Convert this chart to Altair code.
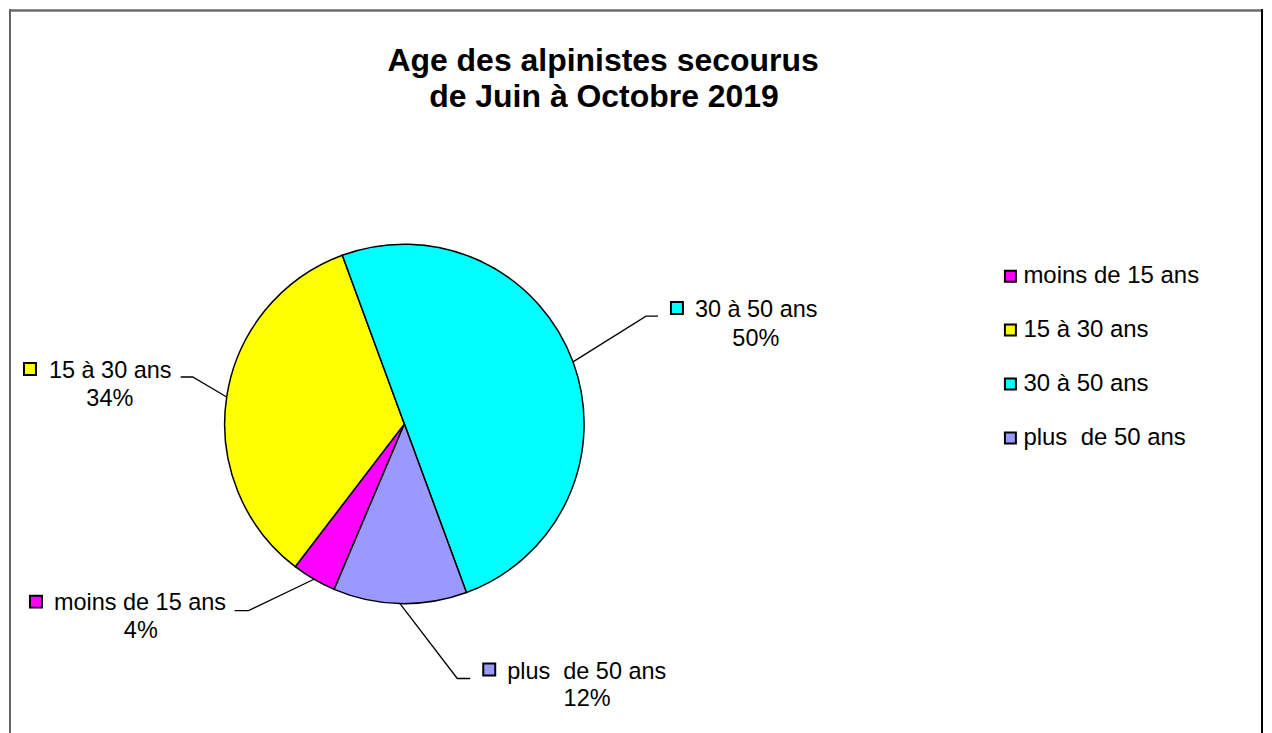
import math
import altair as alt
import pandas as pd

# ---- data ----
categories = ["moins de 15 ans", "15 à 30 ans", "30 à 50 ans", "plus\u00a0 de 50 ans"]
values = [4, 34, 50, 12]
colors = ["#FF00FF", "#FFFF00", "#00FFFF", "#9999FF"]
title_lines = ["Age des alpinistes secourus", "de Juin à Octobre 2019"]

# ---- layout (page pixels; converted to chart pixels below) ----
OFF = 8
W, H = 1256, 725
CX, CY, R = 404 - OFF, 423 - OFF, 180
START_DEG = 203.0
FONT = "Liberation Sans"
LABEL_SIZE = 23.5
LEGEND_SIZE = 24
TITLE_SIZE = 32

title_pos = [(603, 70), (604, 106)]
# per category: marker centre, text start x, line1 baseline, pct centre x, pct baseline, elbow, hook end
label_layout = [
    dict(mx=35, my=601, tx=53, ty=609, px=140, py=637, ex=248, ey=610, hx=234, hy=610),
    dict(mx=29, my=368, tx=48, ty=377, px=109, py=405, ex=192, ey=376, hx=180, hy=376),
    dict(mx=677, my=307, tx=695, ty=316, px=756, py=345, ex=646, ey=315, hx=658, hy=315),
    dict(mx=489, my=669, tx=507, ty=678, px=587, py=706, ex=457, ey=678, hx=470, hy=678),
]
legend_marker_x, legend_text_x = 1011, 1024
legend_first_marker_y, legend_first_base_y, legend_step = 275, 282, 54

color_scale = alt.Scale(domain=categories, range=colors)

# ---- pie ----
pie_df = pd.DataFrame({"cat": categories, "val": values, "idx": list(range(len(values)))})
start = math.radians(START_DEG)
pie = alt.Chart(pie_df).mark_arc(radius=R, stroke="black", strokeWidth=1.5).encode(
    theta=alt.Theta("val:Q", stack=True, scale=alt.Scale(range=[start, start + 2 * math.pi])),
    color=alt.Color("cat:N", scale=color_scale, legend=None),
    order=alt.Order("idx:Q"),
    x=alt.value(CX),
    y=alt.value(CY),
)

# ---- leader lines ----
total = sum(values)
rows = []
cum = 0.0
for c, v, lay in zip(categories, values, label_layout):
    mid = START_DEG + (cum + v / 2) / total * 360.0
    cum += v
    a = math.radians(mid)
    rows.append(dict(cat=c, o=0, x=CX + R * math.sin(a), y=CY - R * math.cos(a)))
    rows.append(dict(cat=c, o=1, x=lay["ex"] - OFF, y=lay["ey"] - OFF))
    rows.append(dict(cat=c, o=2, x=lay["hx"] - OFF, y=lay["hy"] - OFF))
lead_df = pd.DataFrame(rows)
leaders = alt.Chart(lead_df).mark_line(color="black", strokeWidth=1.3).encode(
    x=alt.X("x:Q", scale=None, axis=None),
    y=alt.Y("y:Q", scale=None, axis=None),
    detail="cat:N",
    order="o:Q",
)

# ---- data labels ----
lab_df = pd.DataFrame([
    dict(cat=c, pct=f"{v}%",
         mx=l["mx"] - OFF, my=l["my"] - OFF, tx=l["tx"] - OFF, ty=l["ty"] - OFF,
         px=l["px"] - OFF, py=l["py"] - OFF)
    for c, v, l in zip(categories, values, label_layout)
])
lab_markers = alt.Chart(lab_df).mark_square(size=144, stroke="black", strokeWidth=2, opacity=1).encode(
    x=alt.X("mx:Q", scale=None, axis=None),
    y=alt.Y("my:Q", scale=None, axis=None),
    color=alt.Color("cat:N", scale=color_scale, legend=None),
)
lab_text = alt.Chart(lab_df).mark_text(
    align="left", baseline="alphabetic", font=FONT, fontSize=LABEL_SIZE, color="black"
).encode(
    x=alt.X("tx:Q", scale=None, axis=None),
    y=alt.Y("ty:Q", scale=None, axis=None),
    text="cat:N",
)
lab_pct = alt.Chart(lab_df).mark_text(
    align="center", baseline="alphabetic", font=FONT, fontSize=LABEL_SIZE, color="black"
).encode(
    x=alt.X("px:Q", scale=None, axis=None),
    y=alt.Y("py:Q", scale=None, axis=None),
    text="pct:N",
)

# ---- legend ----
leg_df = pd.DataFrame([
    dict(cat=c,
         mx=legend_marker_x - OFF, my=legend_first_marker_y + i * legend_step - OFF,
         tx=legend_text_x - OFF, ty=legend_first_base_y + i * legend_step - OFF)
    for i, c in enumerate(categories)
])
leg_markers = alt.Chart(leg_df).mark_square(size=121, stroke="black", strokeWidth=2, opacity=1).encode(
    x=alt.X("mx:Q", scale=None, axis=None),
    y=alt.Y("my:Q", scale=None, axis=None),
    color=alt.Color("cat:N", scale=color_scale, legend=None),
)
leg_text = alt.Chart(leg_df).mark_text(
    align="left", baseline="alphabetic", font=FONT, fontSize=LEGEND_SIZE, color="black"
).encode(
    x=alt.X("tx:Q", scale=None, axis=None),
    y=alt.Y("ty:Q", scale=None, axis=None),
    text="cat:N",
)

# ---- title ----
title_df = pd.DataFrame([
    dict(t=t, x=p[0] - OFF, y=p[1] - OFF) for t, p in zip(title_lines, title_pos)
])
title = alt.Chart(title_df).mark_text(
    align="center", baseline="alphabetic", font=FONT, fontSize=TITLE_SIZE, fontWeight="bold", color="black"
).encode(
    x=alt.X("x:Q", scale=None, axis=None),
    y=alt.Y("y:Q", scale=None, axis=None),
    text="t:N",
)

# ---- chart frame (top, left, right; bottom lies below the window) ----
frame_top = alt.Chart(pie_df).mark_rule(color="#666666", strokeWidth=1.5).encode(
    x=alt.value(0), x2=alt.value(W), y=alt.value(1)
)
frame_left = alt.Chart(pie_df).mark_rule(color="#666666", strokeWidth=2).encode(
    x=alt.value(1), y=alt.value(0), y2=alt.value(H)
)
frame_right = alt.Chart(pie_df).mark_rule(color="black", strokeWidth=1.5).encode(
    x=alt.value(W - 1), y=alt.value(0), y2=alt.value(H)
)

chart = alt.layer(
    pie, leaders, lab_markers, lab_text, lab_pct, leg_markers, leg_text, title,
    frame_top, frame_left, frame_right
).properties(
    width=W, height=H, padding=0, background="white"
).configure_view(
    strokeWidth=0
)

chart.save("out.html", embed_options={"renderer": "svg", "actions": False})
